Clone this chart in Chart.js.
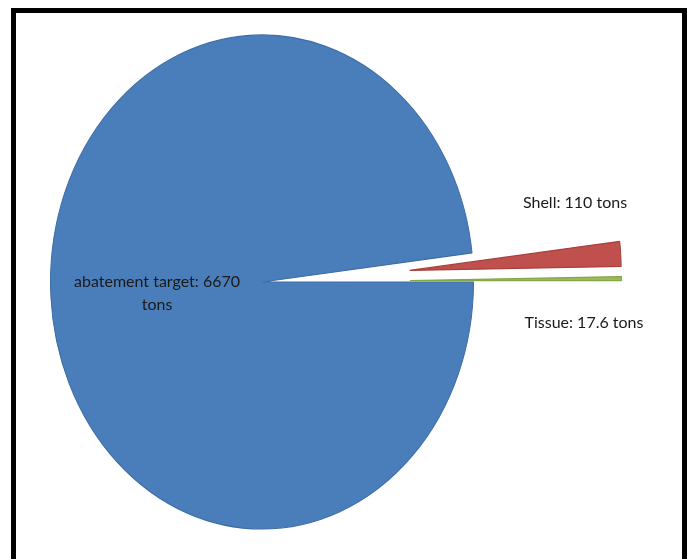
<!DOCTYPE html>
<html>
<head>
<meta charset="utf-8">
<script src="https://cdn.jsdelivr.net/npm/chart.js@4/dist/chart.umd.min.js"></script>
<style>
  html, body { margin: 0; padding: 0; background: #ffffff; overflow: hidden; }
  #wrap { position: relative; width: 687px; height: 559px; }
  #c { position: absolute; left: 0; top: 0; }
  #frame { position: absolute; left: 11px; top: 8px; width: 676px; height: 600px;
           box-sizing: border-box; border: 5px solid #000; pointer-events: none; }
</style>
</head>
<body>
<div id="wrap">
  <canvas id="c" width="687" height="559"></canvas>
  <div id="frame"></div>
</div>
<script>
// ---- data ----
const categories = ['abatement target', 'Shell', 'Tissue'];
const values = [6670, 110, 17.6];
const labelTexts = [['abatement target: 6670', 'tons'], ['Shell: 110 tons'], ['Tissue: 17.6 tons']];

// ---- style ----
const colors = ['#4A7EBB', '#C0504D', '#9BBB59'];
const borderColors = ['#3E6DA6', '#A8403D', '#86A64A'];
const explode = [0, 148, 148];          // explosion distance along slice bisector
const stretchY = 1.168;                 // Excel pie is drawn as an ellipse
const labelOffsets = [[-105, 0], [313, -79], [322, 41]]; // label anchor relative to pie centre
const FONT = '16px Lato, "Open Sans", sans-serif';

const ellipsePie = {
  id: 'ellipsePie',
  beforeDatasetDraw(chart, args) {
    const ctx = chart.ctx;
    args.meta.data.forEach((el, i) => {
      const mid = (el.startAngle + el.endAngle) / 2;
      const d = explode[i] || 0;
      ctx.save();
      ctx.translate(el.x, el.y);
      ctx.scale(1, stretchY);
      ctx.translate(Math.cos(mid) * d, Math.sin(mid) * d);
      ctx.translate(-el.x, -el.y);
      el.draw(ctx);
      ctx.restore();
    });
    return false;
  },
  afterDraw(chart) {
    const ctx = chart.ctx;
    const meta = chart.getDatasetMeta(0);
    const el = meta.data[0];
    ctx.save();
    ctx.font = FONT;
    ctx.fillStyle = '#1a1a1a';
    ctx.textAlign = 'center';
    ctx.textBaseline = 'middle';
    labelTexts.forEach((lines, i) => {
      const [ox, oy] = labelOffsets[i];
      lines.forEach((t, j) => {
        ctx.fillText(t, el.x + ox, el.y + oy + j * 23);
      });
    });
    ctx.restore();
  }
};

new Chart(document.getElementById('c'), {
  type: 'pie',
  data: {
    labels: categories,
    datasets: [{
      data: values,
      backgroundColor: colors,
      borderColor: borderColors,
      borderWidth: 1,
      clip: false
    }]
  },
  options: {
    responsive: false,
    animation: false,
    rotation: 90,
    layout: { padding: { left: 50, right: 213, top: 35, bottom: 30 } },
    plugins: { legend: { display: false }, tooltip: { enabled: false } },
    events: []
  },
  plugins: [ellipsePie]
});
</script>
</body>
</html>
